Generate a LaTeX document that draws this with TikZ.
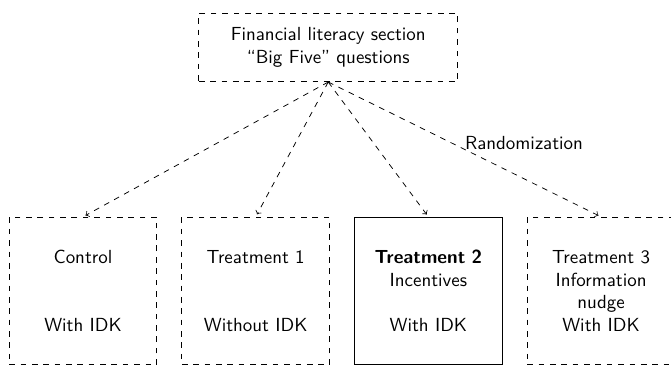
\documentclass[tikz,border=0pt]{standalone}
\usepackage{tikz}
\usetikzlibrary{positioning}

\begin{document}
\begin{tikzpicture}[node distance=0.45cm, >=to, every node/.style={font=\sffamily},
  groupbox/.style={draw, dashed, rectangle, minimum width=2.74cm, minimum height=2.74cm, text width=2.5cm, align=center, inner sep=0pt},
  flow/.style={->, dashed, shorten >=1.5pt}]
\useasboundingbox (0,0) rectangle (12.45,-6.76);
% Survey section
\node[draw, dashed, rectangle, minimum width=4.8cm, minimum height=1.27cm, align=center] (survey) at (6.09,-0.88) {Financial literacy section\\“Big Five” questions};

% Groups
\node[groupbox] (control) at (1.54,-5.40) {Control\\[24pt]With IDK};
\node[groupbox, right=of control] (treatA) {Treatment 1\\[24pt]Without IDK};
\node[groupbox, solid, right=of treatA] (treatB) {\textbf{Treatment 2}\\Incentives\\[12pt]With IDK};
\node[groupbox, right=of treatB] (treatC) {Treatment 3\\Information\\nudge\\With IDK};

% Connections
\draw[flow] (survey.south) -- (control.north);
\draw[flow] (survey.south) -- (treatA.north);
\draw[flow] (survey.south) -- (treatB.north);
\draw[flow] (survey.south) -- node[pos=0.5, anchor=base west, inner sep=0pt] (rand) {Randomization} (treatC.north);
\end{tikzpicture}
\end{document}
